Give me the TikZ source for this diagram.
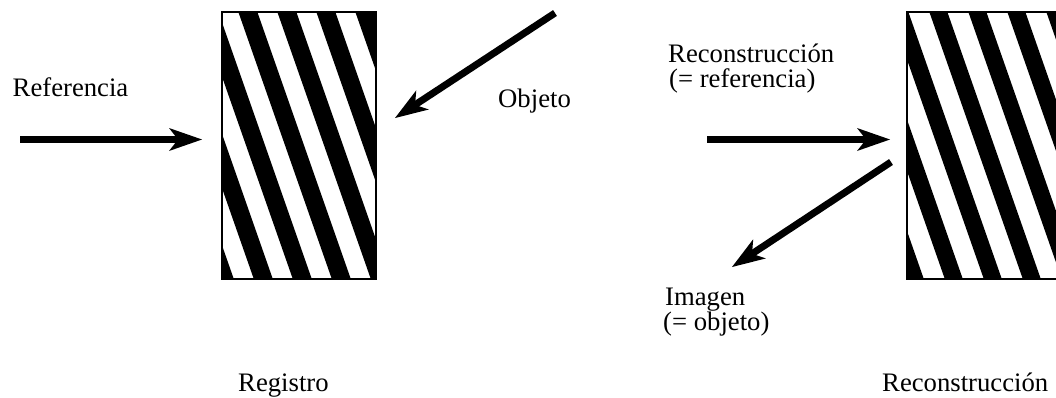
\documentclass[tikz,border=0pt]{standalone}
\usepackage{fontspec}
\setmainfont{Liberation Serif}
\usetikzlibrary{arrows.meta}
\begin{document}
\begin{tikzpicture}[x=1pt,y=-1pt,
  lbl/.style={anchor=base west, inner sep=0pt, font=\fontsize{26.7}{25}\selectfont},
  beam/.style={line width=7pt, -{Stealth[length=33pt,width=23pt,inset=9pt,line width=0pt]}},
  plate/.style={draw=black, line width=1.5pt, minimum width=154pt, minimum height=267pt, inner sep=0pt, anchor=north west},
  fringe/.style={fill=black}
]
\useasboundingbox (0,0) rectangle (1056,397);
\clip (0,0) rectangle (1056,397);

% ---- Registro plate (left)
\begin{scope}
  \clip (221,11) rectangle (375,278);
  \foreach \i in {-5,...,4} {
    \pgfmathsetmacro\xa{238+39*\i-3.85}
    \fill[fringe] (\xa,0) -- ++(19,0) -- ++(101.5,290) -- ++(-19,0) -- cycle;
  }
\end{scope}
\node[plate] (reg) at (221,11) {};

% ---- Reconstruccion plate (right)
\begin{scope}
  \clip (906,11) rectangle (1060,278);
  \foreach \i in {-5,...,4} {
    \pgfmathsetmacro\xa{929+39*\i-3.85}
    \fill[fringe] (\xa,0) -- ++(18,0) -- ++(101.5,290) -- ++(-18,0) -- cycle;
  }
\end{scope}
\node[plate] (rec) at (906,11) {};

% ---- beams
\coordinate (refs) at (20,139.5);
\coordinate (refe) at (202,139.5);
\coordinate (objs) at (555,13);
\coordinate (obje) at (395,118);
\coordinate (rrefs) at (707,139.5);
\coordinate (rrefe) at (890,139.5);
\coordinate (imgs) at (891,162);
\coordinate (imge) at (732,267);
\draw[beam] (refs) -- (refe);
\draw[beam] (objs) -- (obje);
\draw[beam] (rrefs) -- (rrefe);
\draw[beam] (imgs) -- (imge);

% ---- labels
\node[lbl] (tref) at (12.5,96.7) {Referencia};
\node[lbl] (tobj) at (498,107) {Objeto};
\node[lbl] (trec1) at (668,62) {Reconstrucción};
\node[lbl] (trec2) at (669,87) {(= referencia)};
\node[lbl] (timg1) at (665,305) {Imagen};
\node[lbl] (timg2) at (663,330) {(= objeto)};
\node[lbl] (treg) at (238,391) {Registro};
\node[lbl] (trecb) at (882,391) {Reconstrucción};
\end{tikzpicture}
\end{document}
